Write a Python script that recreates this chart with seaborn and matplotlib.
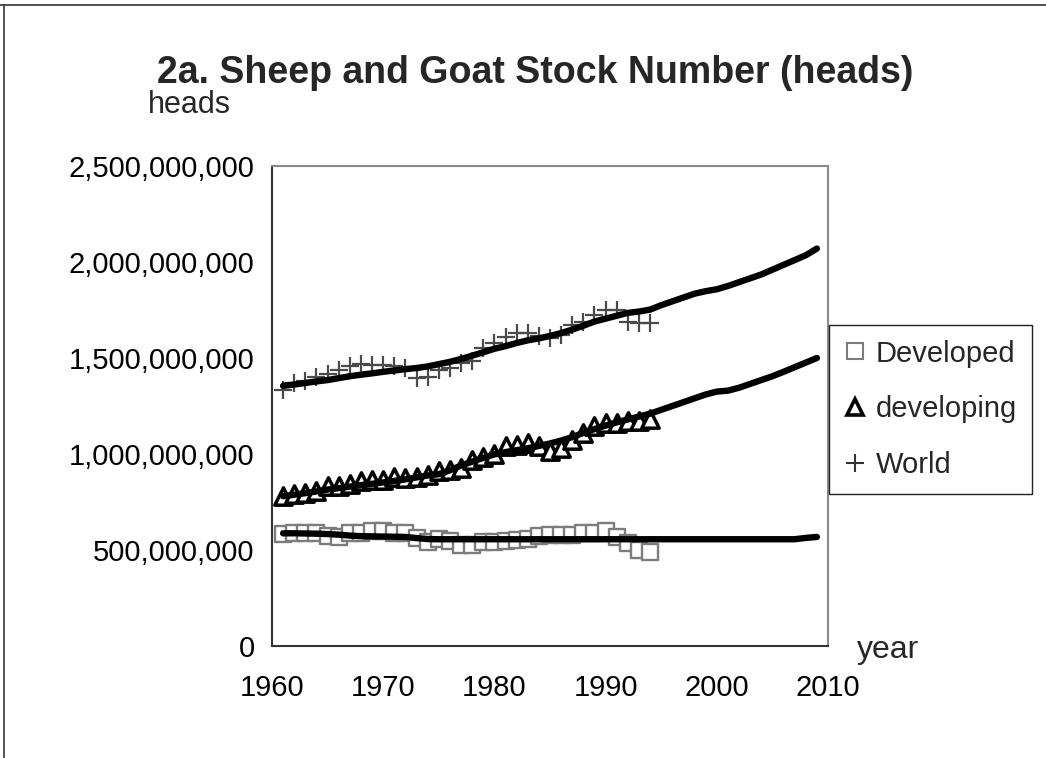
import numpy as np
import matplotlib
matplotlib.use("Agg")
import matplotlib.pyplot as plt
from matplotlib.lines import Line2D
from matplotlib.ticker import FuncFormatter
import seaborn as sns

# Observed stock numbers (million heads), 1961-1994
obs_years = list(range(1961, 1995))
developed = [585, 590, 590, 588, 575, 570, 588, 590, 600, 598,
             590, 588, 560, 540, 555, 548, 528, 526, 540, 543,
             545, 552, 557, 575, 578, 578, 580, 588, 590, 600,
             570, 535, 502, 492]
developing = [780, 793, 797, 809, 832, 832, 844, 858, 866, 866,
              879, 875, 879, 892, 910, 918, 927, 970, 983, 1000,
              1040, 1048, 1057, 1040, 1014, 1031, 1074, 1109, 1144, 1161,
              1161, 1173, 1170, 1180]
world = [1335, 1370, 1380, 1400, 1415, 1435, 1460, 1470, 1465, 1462,
         1460, 1450, 1395, 1400, 1435, 1450, 1472, 1482, 1550, 1576,
         1610, 1630, 1630, 1612, 1605, 1620, 1672, 1690, 1725, 1750,
         1750, 1690, 1682, 1682]

# Trend / projection lines (million heads), 1961-2009
trend_years = list(range(1961, 2010))
developed_trend = [587, 587, 586, 585, 583, 580, 575, 572, 571, 570,
                   569, 568, 562, 557, 556, 556, 556, 556, 556, 556,
                   556, 556, 556, 556, 556, 556, 556, 556, 556, 556,
                   556, 556, 556, 556, 556, 556, 556, 556, 556, 556,
                   556, 556, 556, 556, 556, 556, 556, 563, 568]
developing_trend = [780, 788, 796, 805, 815, 822, 830, 838, 845, 852,
                    860, 868, 878, 888, 895, 915, 940, 960, 980, 998,
                    1010, 1020, 1030, 1042, 1055, 1070, 1088, 1110, 1130, 1148,
                    1165, 1180, 1195, 1210, 1230, 1250, 1270, 1290, 1310, 1325,
                    1330, 1345, 1365, 1385, 1405, 1428, 1452, 1476, 1500]
world_trend = [1355, 1362, 1370, 1378, 1385, 1395, 1405, 1413, 1420, 1428,
               1435, 1442, 1448, 1456, 1468, 1480, 1495, 1512, 1530, 1548,
               1562, 1578, 1592, 1602, 1615, 1630, 1648, 1668, 1690, 1705,
               1720, 1735, 1742, 1752, 1775, 1795, 1815, 1835, 1848, 1858,
               1875, 1895, 1915, 1935, 1960, 1985, 2010, 2035, 2070]

series_labels = ["Developed", "developing", "World"]
x_ticks = [1960, 1970, 1980, 1990, 2000, 2010]
y_ticks = [0, 500e6, 1000e6, 1500e6, 2000e6, 2500e6]

MIL = 1e6

sns.set_theme(style="white")
plt.rcParams["font.family"] = ["Liberation Sans", "DejaVu Sans"]

W, H = 1046, 758
fig = plt.figure(figsize=(W / 100, H / 100), dpi=100)
fig.patch.set_facecolor("white")
ax = fig.add_axes([272 / W, 1 - 646 / H, (828 - 272) / W, (646 - 166) / H])
ax.set_facecolor("white")

# observed markers
sns.scatterplot(x=obs_years, y=np.array(developed) * MIL, marker="s", s=12.0 ** 2,
                facecolor="white", edgecolor="#7c7c7c", linewidth=1.7,
                ax=ax, zorder=2)
sns.scatterplot(x=obs_years, y=np.array(developing) * MIL, marker="^", s=12.5 ** 2,
                facecolor="white", edgecolor="black", linewidth=2.5,
                ax=ax, zorder=2)
sns.scatterplot(x=obs_years, y=np.array(world) * MIL, marker="+", s=12.5 ** 2,
                color="#4a4a4a", linewidth=1.6, ax=ax, zorder=2)

# trend lines drawn over the markers
for vals in (developed_trend, developing_trend, world_trend):
    sns.lineplot(x=trend_years, y=np.array(vals) * MIL, color="black",
                 linewidth=4.6, ax=ax, zorder=3, solid_capstyle="round")

ax.set_xlim(1960, 2010)
ax.set_ylim(0, 2.5e9)
ax.set_xticks(x_ticks)
ax.set_yticks(y_ticks)
ax.yaxis.set_major_formatter(FuncFormatter(lambda v, p: f"{int(round(v)):,}"))
ax.set_xlabel("")
ax.set_ylabel("")
ax.tick_params(axis="both", which="major", direction="inout", length=11,
               width=1.2, color="#333333", labelsize=21, labelcolor="black")
ax.tick_params(axis="x", pad=15)
ax.tick_params(axis="y", pad=7)

for side in ("left", "bottom"):
    ax.spines[side].set_color("#333333")
    ax.spines[side].set_linewidth(1.5)
for side in ("top", "right"):
    ax.spines[side].set_color("#8a8a8a")
    ax.spines[side].set_linewidth(1.5)
    ax.spines[side].set_linestyle((0, (1, 0.6)))

# texts
fig.text(535 / W, 1 - 73 / H, "2a. Sheep and Goat Stock Number (heads)",
         ha="center", va="center", fontsize=27, fontweight="bold")
fig.text(148 / W, 1 - 105 / H, "heads", ha="left", va="center", fontsize=22)
fig.text(857 / W, 1 - 650 / H, "year", ha="left", va="center", fontsize=23)

# legend
handles = [
    Line2D([], [], linestyle="none", marker="s", markersize=11,
           markerfacecolor="white", markeredgecolor="#7c7c7c", markeredgewidth=1.5),
    Line2D([], [], linestyle="none", marker="^", markersize=12,
           markerfacecolor="white", markeredgecolor="black", markeredgewidth=2.6),
    Line2D([], [], linestyle="none", marker="+", markersize=13,
           color="#333333", markeredgewidth=1.5),
]
leg = fig.legend(handles, series_labels, loc="upper left",
                 bbox_to_anchor=(829 / W, 1 - 325 / H), frameon=True,
                 fontsize=21, handlelength=0.8, handletextpad=0.3,
                 labelspacing=0.95, borderpad=0.5, borderaxespad=0,
                 fancybox=False, framealpha=1)
leg.get_frame().set_edgecolor("#222222")
leg.get_frame().set_linewidth(1.0)

# outer frame of the page
fig.add_artist(Line2D([0, 1], [1 - 5 / H, 1 - 5 / H], transform=fig.transFigure,
                      color="#333333", linewidth=1.2))
fig.add_artist(Line2D([4 / W, 4 / W], [0, 1 - 5 / H], transform=fig.transFigure,
                      color="#333333", linewidth=1.2))

fig.savefig("out.png", dpi=100, facecolor="white")
